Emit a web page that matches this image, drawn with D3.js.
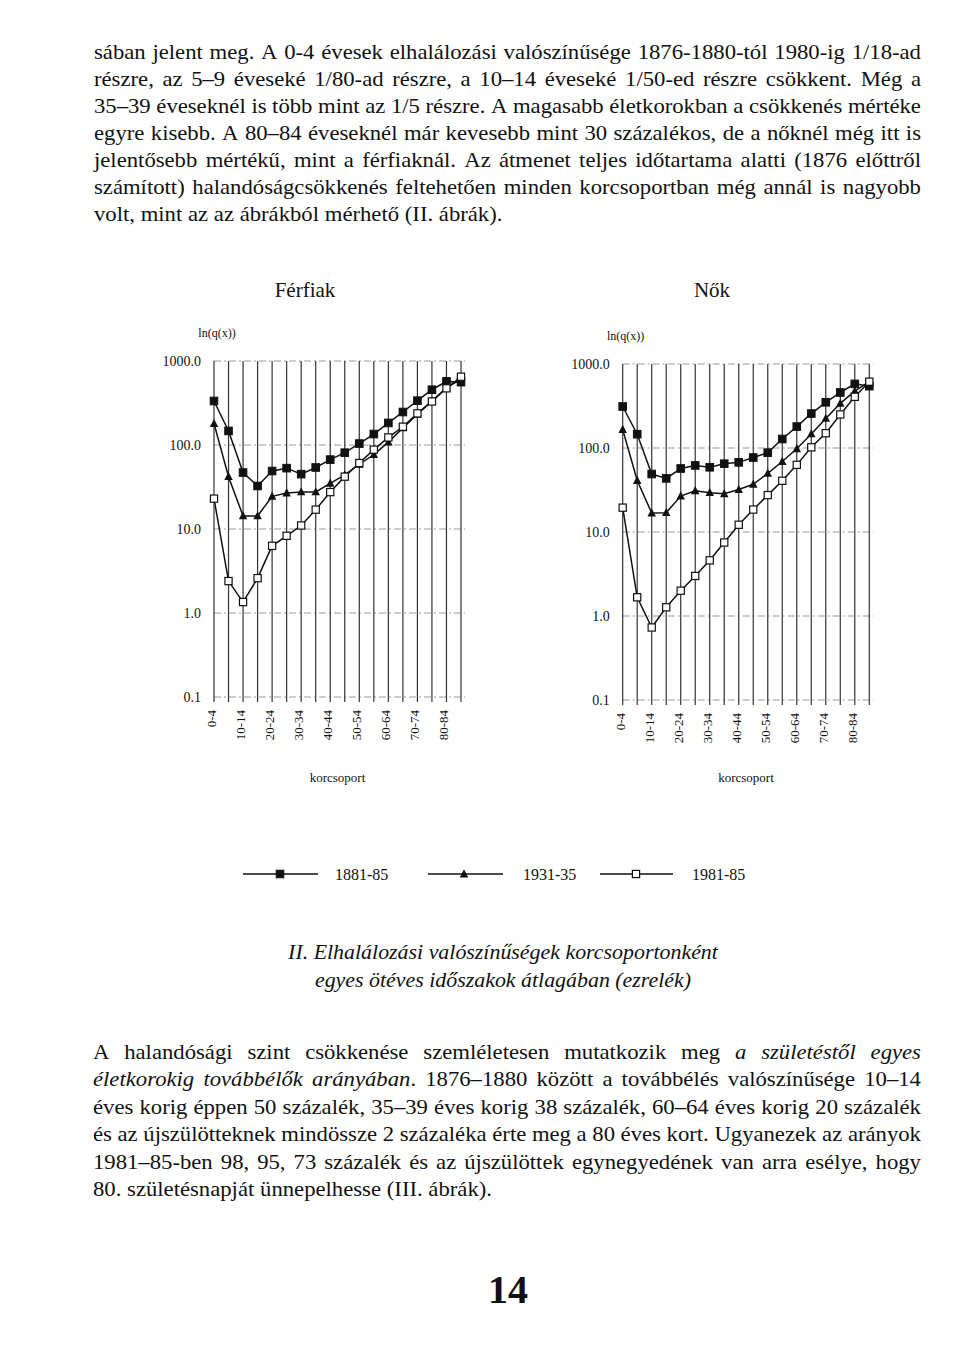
<!DOCTYPE html>
<html><head><meta charset="utf-8">
<script src="https://cdn.jsdelivr.net/npm/d3@7"></script>
<style>
html,body{margin:0;padding:0;background:#fff;}
svg{display:block;}
text{font-family:"Liberation Serif","Times New Roman",serif;fill:#111;}
</style></head>
<body>
<svg id="page" width="960" height="1366"></svg>
<script>
// ---------- DATA ----------
const ageGroups = ["0-4","5-9","10-14","15-19","20-24","25-29","30-34","35-39","40-44","45-49","50-54","55-59","60-64","65-69","70-74","75-79","80-84","85+"];
const xTickLabels = ["0-4","10-14","20-24","30-34","40-44","50-54","60-64","70-74","80-84"];
const yTicks = [1000, 100, 10, 1, 0.1];
const yTickLabels = ["1000.0","100.0","10.0","1.0","0.1"];
const seriesNames = ["1881-85","1931-35","1981-85"];

// Férfiak (men)
const men1881 = [334,147,47,32.5,49,53,45,54,67,81,104,135,183,247,337,455,572,560];
const men1931 = [180,42,14.3,14.3,24.5,26.8,27.6,27.6,35,44,59,77,108,160,232,335,480,610];
const men1981 = [23,2.4,1.35,2.6,6.3,8.3,11,17,27.5,42,61,88,123,165,238,330,473,650];
// Nők (women)
const women1881 = [312,146,49,43.5,57,62,59,65,67.5,77,88,128,180,257,350,458,580,545];
const women1931 = [166,41,16.8,17,26.8,31,29.4,28.5,32,37,50,69,98,147,225,340,475,615];
const women1981 = [19.5,1.67,0.73,1.27,2.0,3.0,4.6,7.5,12.2,18.5,27.5,40.7,63,102,150,251,407,616];

const para1 = [
 [["sában jelent meg. A 0-4 évesek elhalálozási valószínűsége 1876-1880-tól 1980-ig 1/18-ad",0]],
 [["részre, az 5–9 éveseké 1/80-ad részre, a 10–14 éveseké 1/50-ed részre csökkent. Még a",0]],
 [["35–39 éveseknél is több mint az 1/5 részre. A magasabb életkorokban a csökkenés mértéke",0]],
 [["egyre kisebb. A 80–84 éveseknél már kevesebb mint 30 százalékos, de a nőknél még itt is",0]],
 [["jelentősebb mértékű, mint a férfiaknál. Az átmenet teljes időtartama alatti (1876 előttről",0]],
 [["számított) halandóságcsökkenés feltehetően minden korcsoportban még annál is nagyobb",0]],
 [["volt, mint az az ábrákból mérhető (II. ábrák).",0]]
];
const para2 = [
 [["A halandósági szint csökkenése szemléletesen mutatkozik meg ",0],["a születéstől egyes",1]],
 [["életkorokig továbbélők arányában",1],[". 1876–1880 között a továbbélés valószínűsége 10–14",0]],
 [["éves korig éppen 50 százalék, 35–39 éves korig 38 százalék, 60–64 éves korig 20 százalék",0]],
 [["és az újszülötteknek mindössze 2 százaléka érte meg a 80 éves kort. Ugyanezek az arányok",0]],
 [["1981–85-ben 98, 95, 73 százalék és az újszülöttek egynegyedének van arra esélye, hogy",0]],
 [["80. születésnapját ünnepelhesse (III. ábrák).",0]]
];
const captionLines = ["II. Elhalálozási valószínűségek korcsoportonként","egyes ötéves időszakok átlagában (ezrelék)"];
const pageNumber = "14";

// ---------- DRAW ----------
const svg = d3.select("#page");
const SX = 1.135; // horizontal stretch of the scanned typeface

function drawParagraph(lines, x0, x1, y0, lh, fs){
  lines.forEach((segs, i) => {
    const justify = i < lines.length - 1;
    const words = [];
    let cur = null;
    segs.forEach(([t, it]) => {
      const parts = t.split(" ");
      parts.forEach((p, j) => {
        if (j > 0) { if (cur && cur.length) words.push(cur); cur = []; }
        if (cur === null) cur = [];
        if (p.length) cur.push([p, it]);
      });
    });
    if (cur && cur.length) words.push(cur);
    const y = y0 + i * lh;
    const nodes = words.map(w => {
      const t = svg.append("text").attr("font-size", fs);
      w.forEach(([p, it]) => t.append("tspan").text(p).attr("font-style", it ? "italic" : "normal"));
      return t;
    });
    const widths = nodes.map(n => n.node().getComputedTextLength() * SX);
    const total = d3.sum(widths);
    const gap = justify && words.length > 1 ? (x1 - x0 - total) / (words.length - 1) : fs * 0.25 * SX;
    let x = x0;
    nodes.forEach((n, k) => { n.attr("transform", `translate(${x},${y}) scale(${SX},1)`); x += widths[k] + gap; });
  });
}

drawParagraph(para1, 94, 921, 59, 27.0, 20);
drawParagraph(para2, 93, 921, 1059, 27.4, 20);

// caption
captionLines.forEach((c, i) => {
  svg.append("text").attr("transform", `translate(503,${959 + i * 28}) scale(1.095,1)`).attr("text-anchor", "middle")
    .attr("font-size", 20).attr("font-style", "italic").text(c);
});
svg.append("text").attr("x", 508).attr("y", 1303).attr("text-anchor", "middle")
  .attr("font-size", 40).attr("font-weight", "bold").text(pageNumber);

// ---------- CHARTS ----------
function markerPath(g, type, cx, cy){
  if (type === 0) {
    g.append("rect").attr("x", cx - 3.8).attr("y", cy - 3.8).attr("width", 7.6).attr("height", 7.6)
      .attr("fill", "#111").attr("stroke", "#111").attr("stroke-width", 1);
  } else if (type === 1) {
    const s = 8.5;
    g.append("path").attr("d", `M${cx},${cy - s*0.55}L${cx + s/2},${cy + s*0.4}L${cx - s/2},${cy + s*0.4}Z`)
      .attr("fill", "#111");
  } else {
    g.append("rect").attr("x", cx - 3.6).attr("y", cy - 3.6).attr("width", 7.2).attr("height", 7.2)
      .attr("fill", "#fff").attr("stroke", "#111").attr("stroke-width", 1.2);
  }
}

function drawChart(cfg){
  const x = d3.scalePoint().domain(ageGroups).range([cfg.x0, cfg.x1]).padding(0);
  const y = d3.scaleLog().domain([0.1, 1000]).range([cfg.yBot, cfg.yTop]);
  const g = svg.append("g");

  yTicks.forEach(v => {
    g.append("line").attr("x1", cfg.x0).attr("x2", cfg.x1 + 4).attr("y1", y(v)).attr("y2", y(v))
      .attr("stroke", "#999").attr("stroke-width", 1).attr("stroke-dasharray", "7,3,2,3");
  });
  ageGroups.forEach(a => {
    g.append("line").attr("x1", x(a)).attr("x2", x(a)).attr("y1", y(1000)).attr("y2", y(0.1) + 5)
      .attr("stroke", "#333").attr("stroke-width", 1.2);
  });
  yTicks.forEach((v, i) => {
    g.append("text").attr("x", cfg.x0 - 13).attr("y", y(v) + 5).attr("text-anchor", "end")
      .attr("font-size", 14).text(yTickLabels[i]);
  });
  g.append("text").attr("x", cfg.x0 + 3).attr("y", cfg.yTop - 24).attr("text-anchor", "middle")
    .attr("font-size", 12).text("ln(q(x))");
  xTickLabels.forEach(l => {
    const px = x(l) + 2, py = y(0.1) + 13;
    g.append("text").attr("transform", `translate(${px},${py}) rotate(-90)`).attr("text-anchor", "end")
      .attr("font-size", 13).text(l);
  });
  g.append("text").attr("x", (cfg.x0 + cfg.x1) / 2).attr("y", 782).attr("text-anchor", "middle")
    .attr("font-size", 13).text("korcsoport");
  g.append("text").attr("x", cfg.titleX).attr("y", 297).attr("text-anchor", "middle")
    .attr("font-size", 21).text(cfg.title);

  const line = d3.line().x((d, i) => x(ageGroups[i])).y(d => y(d));
  cfg.series.forEach(s => {
    g.append("path").attr("d", line(s)).attr("fill", "none").attr("stroke", "#111").attr("stroke-width", 1.5);
  });
  cfg.series.forEach((s, si) => {
    s.forEach((v, i) => markerPath(g, si, x(ageGroups[i]), y(v)));
  });
}

drawChart({x0: 214, x1: 461, yTop: 361, yBot: 697, title: "Férfiak", titleX: 305,
  series: [men1881, men1931, men1981]});
drawChart({x0: 622.7, x1: 869.3, yTop: 364, yBot: 700, title: "Nők", titleX: 712,
  series: [women1881, women1931, women1981]});

// ---------- LEGEND ----------
const legendItems = [
  {x1: 243, x2: 318, mx: 280, tx: 335},
  {x1: 428, x2: 503, mx: 464, tx: 523},
  {x1: 600, x2: 673, mx: 636, tx: 692}
];
const lg = svg.append("g");
legendItems.forEach((it, i) => {
  lg.append("line").attr("x1", it.x1).attr("x2", it.x2).attr("y1", 874).attr("y2", 874)
    .attr("stroke", "#111").attr("stroke-width", 1.3);
  markerPath(lg, i, it.mx, 874);
  lg.append("text").attr("x", it.tx).attr("y", 880).attr("font-size", 16).text(seriesNames[i]);
});
</script>
</body></html>
